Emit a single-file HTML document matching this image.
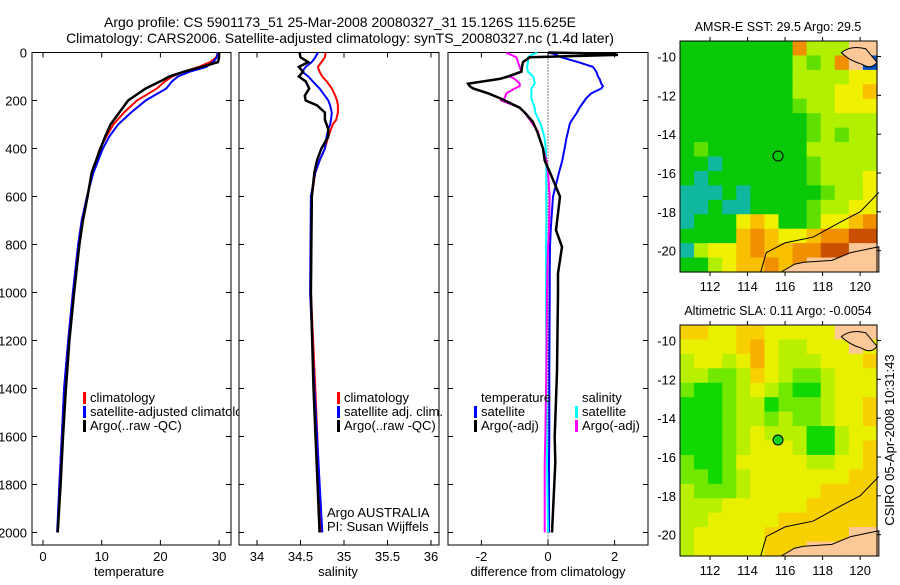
<!DOCTYPE html>
<html><head><meta charset="utf-8"><style>
body{margin:0;background:#fff;}
svg text{font-family:"Liberation Sans",sans-serif;fill:#000;}
</style></head><body>
<svg id="fig" width="900" height="580" viewBox="0 0 900 580" xmlns="http://www.w3.org/2000/svg">
<text x="340" y="27" font-size="14" text-anchor="middle">Argo profile: CS 5901173_51 25-Mar-2008 20080327_31 15.126S 115.625E</text>
<text x="340" y="43" font-size="14" text-anchor="middle">Climatology: CARS2006. Satellite-adjusted climatology: synTS_20080327.nc (1.4d later)</text>
<g id="g"></g>
</svg>
<script>
// ---- profile data ----
const depthT = [0,20,40,60,80,100,120,150,200,250,300,350,400,500,600,700,800,1000,1200,1400,1600,1800,2000];
const tempClim = [29.8,29.5,28.5,26.5,24,22,20.8,19.4,16,13.8,12,10.8,9.7,8.4,7.5,6.6,6.0,5.1,4.3,3.6,3.2,2.8,2.5];
const tempSat  = [29.8,29.6,29,27.8,25,23,22,21,17.5,15,12.8,11.3,10.2,8.6,7.5,6.6,6.0,5.1,4.3,3.6,3.2,2.8,2.4];
const tempArgo = [30,30,29.8,27,24,21.5,20,17.5,14.5,13,11.5,10.6,9.8,8.3,7.6,6.8,6.2,5.3,4.5,3.9,3.4,3.0,2.5];
const depthS = [0,20,40,60,80,100,120,150,180,200,220,250,280,300,320,350,400,450,500,600,1000,1400,2000];
const salClim = [34.79,34.78,34.74,34.70,34.72,34.75,34.80,34.86,34.90,34.92,34.93,34.93,34.91,34.87,34.85,34.82,34.78,34.72,34.67,34.63,34.62,34.67,34.74];
const salSat  = [34.70,34.67,34.63,34.56,34.52,34.59,34.64,34.72,34.78,34.82,34.84,34.86,34.85,34.84,34.82,34.80,34.78,34.72,34.67,34.62,34.61,34.66,34.75];
const salArgo = [34.49,34.50,34.59,34.48,34.53,34.48,34.56,34.60,34.55,34.56,34.69,34.78,34.78,34.80,34.82,34.82,34.74,34.69,34.66,34.63,34.62,34.65,34.72];
const depthD = [0,5,10,20,40,60,80,100,110,130,140,150,170,190,200,230,250,290,300,330,360,400,450,500,600,740,810,920,1000,1330,1600,1710,2000];
const diffTSat  = [0,0.15,0.25,0.4,0.9,1.35,1.45,1.5,1.55,1.6,1.65,1.6,1.3,1.15,1.1,0.95,0.87,0.68,0.65,0.6,0.55,0.5,0.43,0.33,0.15,0.08,0.06,0.05,0.05,0.04,0.04,0.03,0.03];
const diffTArgo = [0,1.95,2.1,-0.55,-0.75,-0.78,-0.8,-1.2,-1.45,-2.4,-2.35,-2.25,-1.8,-1.45,-1.3,-0.85,-0.7,-0.45,-0.42,-0.32,-0.25,-0.15,-0.1,0.06,0.36,0.24,0.42,0.3,0.3,0.27,0.2,0.22,0.12];
const diffSSat  = [-0.33,-0.4,-0.5,-0.6,-0.6,-0.63,-0.6,-0.45,-0.42,-0.4,-0.45,-0.5,-0.5,-0.5,-0.48,-0.4,-0.38,-0.25,-0.22,-0.15,-0.1,-0.07,-0.05,-0.05,-0.05,-0.05,-0.06,-0.06,-0.06,-0.05,-0.04,-0.03,0];
const diffSArgo = [-1.25,-1.2,-1.1,-0.95,-0.9,-0.85,-0.8,-1.15,-1.0,-0.85,-0.85,-1.0,-1.25,-1.3,-1.4,-0.85,-0.7,-0.5,-0.45,-0.3,-0.25,-0.15,-0.05,0,0.05,0.03,0.0,-0.02,-0.03,-0.05,-0.08,-0.1,-0.1];
const depthTicks = [0,200,400,600,800,1000,1200,1400,1600,1800,2000];
const tempTicks = [0,10,20,30];
const salTicks = [34,34.5,35,35.5,36];
const salTickLabels = ["34","34.5","35","35.5","36"];
const diffTicks = [-2,0,2];
// ---- map data (grid 14 lon x 16 lat, color index, -1 = land) ----
const lonTicks = [112,114,116,118,120];
const latTicks = [-10,-12,-14,-16,-18,-20];
const sstGrid = [
[3,3,3,3,3,3,3,3,8,5,5,5,-1,-1],
[3,3,3,3,3,3,3,3,5,4,5,8,-1,0],
[3,3,3,3,3,3,3,3,5,5,5,5,6,6],
[3,3,3,3,3,3,3,3,5,5,5,6,6,7],
[3,3,3,3,3,3,3,3,4,5,5,6,6,6],
[3,3,3,3,3,3,3,3,3,4,5,5,5,5],
[3,3,3,3,3,3,3,3,3,4,5,4,5,5],
[3,4,3,3,3,3,3,3,3,5,5,5,5,5],
[3,3,2,3,3,3,3,3,3,4,5,5,5,5],
[3,2,3,3,3,3,3,3,3,4,5,5,5,6],
[2,2,2,3,2,3,3,3,3,3,4,5,5,6],
[2,2,3,2,2,3,3,3,3,4,5,5,6,6],
[2,3,3,3,6,7,6,3,3,4,6,6,7,8],
[3,3,3,3,7,8,7,6,6,7,8,8,9,9],
[2,5,6,6,7,8,7,7,8,8,9,9,-1,-1],
[3,3,5,6,7,7,8,7,8,-1,-1,-1,-1,-1]];
const slaGrid = [
[7,7,6,6,7,7,6,6,6,6,6,-1,-1,-1],
[6,6,6,6,7,8,6,5,5,6,6,6,-1,6],
[5,6,6,5,6,8,6,5,5,5,6,6,6,7],
[5,5,4,4,5,7,6,5,4,4,5,6,6,6],
[4,3,3,4,5,6,5,4,3,3,5,6,6,6],
[3,3,3,4,5,5,3,4,4,4,5,6,6,7],
[3,3,3,4,5,5,4,5,4,4,5,6,6,7],
[3,3,3,4,5,6,5,5,5,3,3,5,6,6],
[3,3,3,4,5,6,6,6,5,3,3,5,6,7],
[4,3,3,4,6,6,6,6,6,5,5,6,6,7],
[4,4,3,4,5,6,6,6,6,6,6,6,7,7],
[5,4,4,4,5,6,6,6,6,6,7,7,7,7],
[5,5,5,6,6,6,6,6,6,7,7,7,7,7],
[5,5,6,6,6,6,6,7,7,7,7,7,7,7],
[5,6,6,6,6,6,7,7,7,7,7,7,-1,-1],
[5,6,6,6,6,6,7,7,7,-1,-1,-1,-1,-1]];
const argoLon = 115.625, argoLat = -15.126;
const contourLon = [114.7,115,116,117.5,119,120,121];
const contourLat = [-21.1,-20.1,-19.6,-19.3,-18.5,-18,-17];
const landLon = [115.8,116.5,117,118.5,119.5,121,121];
const landLat = [-21.1,-20.7,-20.6,-20.5,-20.1,-19.8,-21.1];

const NS="http://www.w3.org/2000/svg";
const G=document.getElementById('g');
function el(tag,attrs,parent,txt){const e=document.createElementNS(NS,tag);for(const k in attrs)e.setAttribute(k,attrs[k]);if(txt!==undefined)e.textContent=txt;(parent||G).appendChild(e);return e;}
const top0=52.5, bot0=545, dScale=0.24;
const yD=d=>top0+d*dScale;

function panel(name,x0,x1,xf,ticks,labels,xlabel,xlabCx){
  const r=el('rect',{x:x0,y:top0,width:x1-x0,height:bot0-top0,fill:'#fff',stroke:'#000','stroke-width':1});
  
  ticks.forEach((t,i)=>{const x=xf(t);
    let l=el('line',{x1:x,x2:x,y1:bot0,y2:bot0-5,stroke:'#000'});
    l=el('line',{x1:x,x2:x,y1:top0,y2:top0+5,stroke:'#000'});
    const tx=el('text',{x:x,y:561,'font-size':13,'text-anchor':'middle'},G,labels[i]);});
  depthTicks.forEach(d=>{const y=yD(d);
    let l=el('line',{x1:x0,x2:x0+5,y1:y,y2:y,stroke:'#000'});
    l=el('line',{x1:x1,x2:x1-5,y1:y,y2:y,stroke:'#000'});});
  const xl=el('text',{x:xlabCx,y:576,'font-size':13,'text-anchor':'middle'},G,xlabel);
}
function line(xs,ds,xf,color,w,name){
  const pts=xs.map((v,i)=>xf(v).toFixed(1)+','+yD(ds[i]).toFixed(1)).join(' ');
  const p=el('polyline',{points:pts,fill:'none',stroke:color,'stroke-width':w,'stroke-linejoin':'miter'});
  
}
function legend(x,y,color,text,name){
  if(color){const r=el('rect',{x:x,y:y-10,width:3,height:12,fill:color});}
  const t=el('text',{x:x+7,y:y,'font-size':13},G,text);
}
depthTicks.forEach(d=>{const t=el('text',{x:27,y:yD(d)+5,'font-size':13,'text-anchor':'end'},G,String(d));});

const xT=v=>43+v*5.87;
panel('temperature-panel',32,231,xT,tempTicks,tempTicks.map(String),'temperature',129);
line(tempClim,depthT,xT,'#f00',2,'temp-climatology-line');
line(tempSat,depthT,xT,'#00f',2,'temp-satellite-line');
line(tempArgo,depthT,xT,'#000',2.5,'temp-argo-line');
legend(83,402,'#f00','climatology','legend-climatology');
legend(83,416,'#00f','satellite-adjusted climatology','legend-satellite-adjusted');
legend(83,430,'#000','Argo(..raw -QC)','legend-argo');

const xS=v=>257+(v-34)*87;
panel('salinity-panel',239,439,xS,salTicks,salTickLabels,'salinity',338);
line(salClim,depthS,xS,'#f00',2,'sal-climatology-line');
line(salSat,depthS,xS,'#00f',2,'sal-satellite-line');
line(salArgo,depthS,xS,'#000',2.5,'sal-argo-line');
legend(337,402,'#f00','climatology','legend-sal-climatology');
legend(337,416,'#00f','satellite adj. clim.','legend-sal-satellite');
legend(337,430,'#000','Argo(..raw -QC)','legend-sal-argo');
let t=el('text',{x:327,y:517,'font-size':13},G,'Argo AUSTRALIA');
t=el('text',{x:327,y:531,'font-size':13},G,'PI: Susan Wijffels');

const xDf=v=>548+v*33.3;
panel('difference-panel',448,648,xDf,diffTicks,diffTicks.map(String),'difference from climatology',548);
let z=el('line',{x1:548,x2:548,y1:top0,y2:bot0,stroke:'#000','stroke-dasharray':'1,2'});
line(diffTSat,depthD,xDf,'#00f',2,'diff-temp-satellite-line');
line(diffSSat,depthD,xDf,'#0ff',2,'diff-sal-satellite-line');
line(diffSArgo,depthD,xDf,'#f0f',2,'diff-sal-argo-line');
line(diffTArgo,depthD,xDf,'#000',2.5,'diff-temp-argo-line');
legend(474,402,null,'temperature','legend-diff-temperature-head');
legend(474,416,'#00f','satellite','legend-diff-temp-satellite');
legend(474,430,'#000','Argo(-adj)','legend-diff-temp-argo');
legend(575,402,null,'salinity','legend-diff-salinity-head');
legend(575,416,'#0ff','satellite','legend-diff-sal-satellite');
legend(575,430,'#f0f','Argo(-adj)','legend-diff-sal-argo');

const sstColors=['#0050c0','#00c8d0','#10b8a0','#08c808','#60e000','#b0f000','#f0f000','#f8c000','#f09000','#c85000'];
const slaColors=['#00a000','#00b000','#00c000','#10d800','#70e800','#b8f000','#e8f000','#f8d000','#f8b000','#f09000'];
function map(name,top,grid,colors,title){
  const L=680,R=877,B=top+231,lon0=110.4,lon1=120.9,lat0=-9.2,lat1=-21.1;
  const mx=lo=>L+(lo-lon0)/(lon1-lon0)*(R-L);
  const my=la=>top+(la-lat0)/(lat1-lat0)*(B-top);
  const rows=grid.length,cols=grid[0].length,cw=(R-L)/cols,ch=(B-top)/rows;
  grid.forEach((row,i)=>row.forEach((v,j)=>{
    const c=el('rect',{x:L+j*cw,y:top+i*ch,width:cw+0.6,height:ch+0.6,fill:v<0?'#fcc898':colors[v]});
    
  }));
  const isl=el('path',{d:`M${mx(119)},${my(-9.8)} Q${mx(119.5)},${my(-9.4)} ${mx(120.3)},${my(-9.6)} L${mx(120.9)},${my(-10.3)} Q${mx(120.6)},${my(-10.7)} ${mx(120.1)},${my(-10.4)} Q${mx(119.4)},${my(-10.2)} ${mx(119)},${my(-9.8)}Z`,fill:'#fcc898',stroke:'#000','stroke-width':1});
  
  const land=el('polygon',{points:landLon.map((lo,i)=>mx(lo)+','+my(landLat[i])).join(' '),fill:'#fcc898',stroke:'#000','stroke-width':1});
  
  const ct=el('polyline',{points:contourLon.map((lo,i)=>mx(lo)+','+my(contourLat[i])).join(' '),fill:'none',stroke:'#000','stroke-width':1});
  
  const fr=el('rect',{x:L,y:top,width:R-L,height:B-top,fill:'none',stroke:'#000','stroke-width':1});
  
  lonTicks.forEach(lo=>{const x=mx(lo);
    let l=el('line',{x1:x,x2:x,y1:top,y2:top-4,stroke:'#000'});
    l=el('line',{x1:x,x2:x,y1:B,y2:B+4,stroke:'#000'});
    const tx=el('text',{x:x,y:B+19,'font-size':13,'text-anchor':'middle'},G,String(lo));});
  latTicks.forEach(la=>{const y=my(la);
    let l=el('line',{x1:R,x2:R+4,y1:y,y2:y,stroke:'#000'});
    const tx=el('text',{x:676,y:y+5,'font-size':13,'text-anchor':'end'},G,String(la));});
  const tt=el('text',{x:778,y:top-10,'font-size':12.5,'text-anchor':'middle'},G,title);
  return {mx,my};
}
const m1=map('sst-map',41,sstGrid,sstColors,'AMSR-E SST: 29.5 Argo: 29.5');
let c=el('circle',{cx:m1.mx(argoLon),cy:m1.my(argoLat),r:5,fill:'none',stroke:'#000','stroke-width':1});
const m2=map('sla-map',325,slaGrid,slaColors,'Altimetric SLA: 0.11 Argo: -0.0054');
c=el('circle',{cx:m2.mx(argoLon),cy:m2.my(argoLat),r:5,fill:'#10d020',stroke:'#000','stroke-width':1});
t=el('text',{x:0,y:0,'font-size':13,'text-anchor':'middle',transform:'translate(894,440) rotate(-90)'},G,'CSIRO 05-Apr-2008 10:31:43');
</script>
</body></html>
